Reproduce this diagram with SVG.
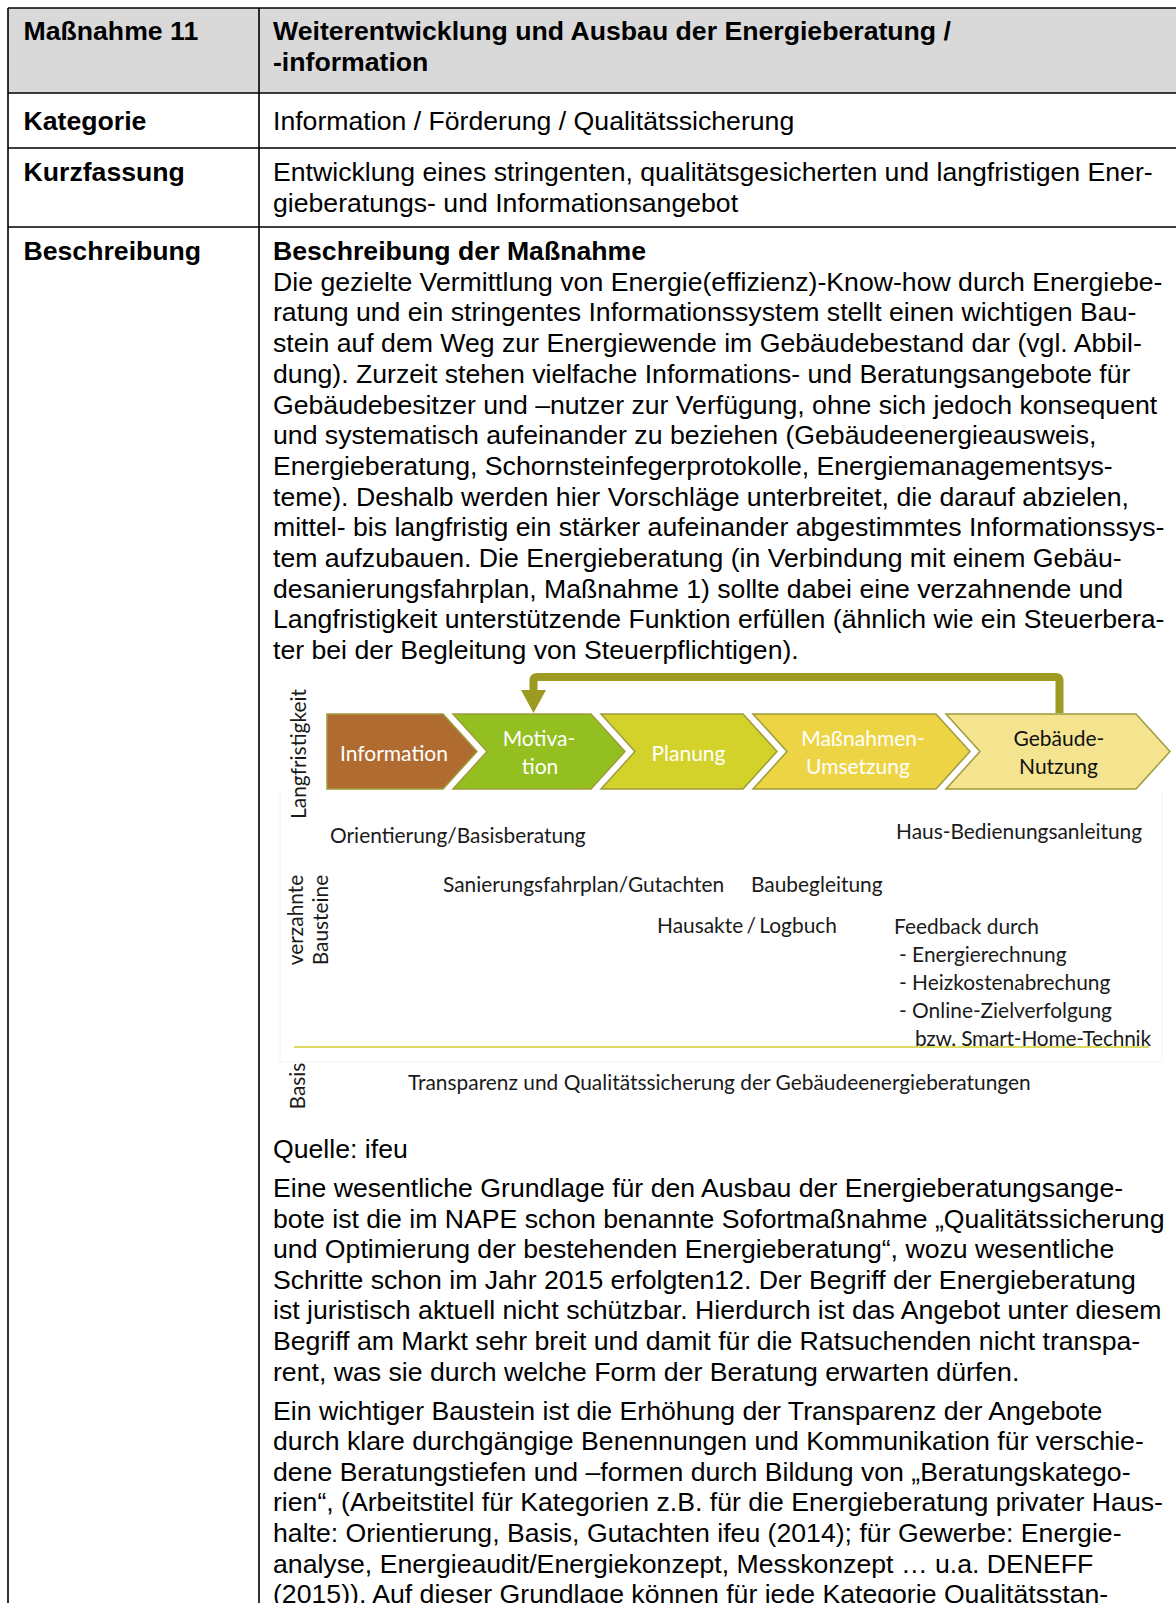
<svg xmlns="http://www.w3.org/2000/svg" width="1176" height="1603" viewBox="0 0 1176 1603">
<style>
  .t{font-family:"Liberation Sans",Arial,sans-serif;font-size:26.65px;fill:#000}
  .b{font-weight:bold}
  .grid{stroke:#000;stroke-width:1.6;fill:none}
  .d{font-family:Lato,"Open Sans",sans-serif;font-size:20.9px;fill:#1a1a1a}
  .w{font-family:Lato,"Open Sans",sans-serif;font-size:21px;fill:#ffffff;text-anchor:middle}
  .k{font-family:Lato,"Open Sans",sans-serif;font-size:21px;fill:#111;text-anchor:middle}
  .chev{stroke:#9e9b3a;stroke-width:1.5}
</style>
<rect width="1176" height="1603" fill="#fff"/>
<g id="table">
  <rect x="8" y="8" width="1170" height="85" fill="#d9d9d9"/>
  <path class="grid" d="M8,8 H1178 M8,93 H1178 M8,148 H1178 M8,227 H1178 M8,8 V1605 M259,8 V1605"/>
  <text class="t b" x="23.5" y="40">Maßnahme 11</text>
  <text class="t b" x="273" y="40">Weiterentwicklung und Ausbau der Energieberatung /</text>
  <text class="t b" x="273" y="70.7">-information</text>
  <text class="t b" x="23.5" y="130">Kategorie</text>
  <text class="t" x="273" y="130">Information / Förderung / Qualitätssicherung</text>
  <text class="t b" x="23.5" y="181">Kurzfassung</text>
  <text class="t" x="273" y="181">Entwicklung eines stringenten, qualitätsgesicherten und langfristigen Ener-</text>
  <text class="t" x="273" y="211.7">gieberatungs- und Informationsangebot</text>
  <text class="t b" x="23.5" y="260">Beschreibung</text>
  <text class="t b" x="273" y="260">Beschreibung der Maßnahme</text>
  <text class="t" x="273" y="290.7">Die gezielte Vermittlung von Energie(effizienz)-Know-how durch Energiebe-</text>
  <text class="t" x="273" y="321.4">ratung und ein stringentes Informationssystem stellt einen wichtigen Bau-</text>
  <text class="t" x="273" y="352.1">stein auf dem Weg zur Energiewende im Gebäudebestand dar (vgl. Abbil-</text>
  <text class="t" x="273" y="382.8">dung). Zurzeit stehen vielfache Informations- und Beratungsangebote für</text>
  <text class="t" x="273" y="413.5">Gebäudebesitzer und –nutzer zur Verfügung, ohne sich jedoch konsequent</text>
  <text class="t" x="273" y="444.2">und systematisch aufeinander zu beziehen (Gebäudeenergieausweis,</text>
  <text class="t" x="273" y="474.9">Energieberatung, Schornsteinfegerprotokolle, Energiemanagementsys-</text>
  <text class="t" x="273" y="505.6">teme). Deshalb werden hier Vorschläge unterbreitet, die darauf abzielen,</text>
  <text class="t" x="273" y="536.3">mittel- bis langfristig ein stärker aufeinander abgestimmtes Informationssys-</text>
  <text class="t" x="273" y="567">tem aufzubauen. Die Energieberatung (in Verbindung mit einem Gebäu-</text>
  <text class="t" x="273" y="597.7">desanierungsfahrplan, Maßnahme 1) sollte dabei eine verzahnende und</text>
  <text class="t" x="273" y="628.4">Langfristigkeit unterstützende Funktion erfüllen (ähnlich wie ein Steuerbera-</text>
  <text class="t" x="273" y="659.1">ter bei der Begleitung von Steuerpflichtigen).</text>
  <text class="t" x="273" y="1158">Quelle: ifeu</text>
  <text class="t" x="273" y="1197">Eine wesentliche Grundlage für den Ausbau der Energieberatungsange-</text>
  <text class="t" x="273" y="1227.6">bote ist die im NAPE schon benannte Sofortmaßnahme „Qualitätssicherung</text>
  <text class="t" x="273" y="1258.2">und Optimierung der bestehenden Energieberatung“, wozu wesentliche</text>
  <text class="t" x="273" y="1288.8">Schritte schon im Jahr 2015 erfolgten12. Der Begriff der Energieberatung</text>
  <text class="t" x="273" y="1319.4">ist juristisch aktuell nicht schützbar. Hierdurch ist das Angebot unter diesem</text>
  <text class="t" x="273" y="1350">Begriff am Markt sehr breit und damit für die Ratsuchenden nicht transpa-</text>
  <text class="t" x="273" y="1380.6">rent, was sie durch welche Form der Beratung erwarten dürfen.</text>
  <text class="t" x="273" y="1419.5">Ein wichtiger Baustein ist die Erhöhung der Transparenz der Angebote</text>
  <text class="t" x="273" y="1450.1">durch klare durchgängige Benennungen und Kommunikation für verschie-</text>
  <text class="t" x="273" y="1480.7">dene Beratungstiefen und –formen durch Bildung von „Beratungskatego-</text>
  <text class="t" x="273" y="1511.3">rien“, (Arbeitstitel für Kategorien z.B. für die Energieberatung privater Haus-</text>
  <text class="t" x="273" y="1541.9">halte: Orientierung, Basis, Gutachten ifeu (2014); für Gewerbe: Energie-</text>
  <text class="t" x="273" y="1572.5">analyse, Energieaudit/Energiekonzept, Messkonzept … u.a. DENEFF</text>
  <text class="t" x="273" y="1603.1">(2015)). Auf dieser Grundlage können für jede Kategorie Qualitätsstan-</text>
</g>
<g id="figure">
  <path d="M280,790 V1062 H1162 V790" fill="none" stroke="#f2f2f2" stroke-width="1"/>
  <line x1="294" y1="1047" x2="1149" y2="1047" stroke="#cfcf2e" stroke-width="1.6"/>
  <text class="d" text-anchor="middle" transform="translate(306,754) rotate(-90)">Langfristigkeit</text>
  <text class="d" text-anchor="middle" transform="translate(303,920) rotate(-90)">verzahnte</text>
  <text class="d" text-anchor="middle" transform="translate(328,920) rotate(-90)">Bausteine</text>
  <text class="d" text-anchor="middle" transform="translate(305,1086) rotate(-90)">Basis</text>
  <text class="d" x="330" y="843">Orientierung/Basisberatung</text>
  <text class="d" x="896" y="839">Haus-Bedienungsanleitung</text>
  <text class="d" x="443" y="892">Sanierungsfahrplan/Gutachten</text>
  <text class="d" x="751" y="892">Baubegleitung</text>
  <text class="d" x="657" y="933" word-spacing="-2">Hausakte / Logbuch</text>
  <text class="d" x="894" y="934">Feedback durch</text>
  <text class="d" x="899" y="962">- Energierechnung</text>
  <text class="d" x="899" y="990">- Heizkostenabrechung</text>
  <text class="d" x="899" y="1018">- Online-Zielverfolgung</text>
  <text class="d" x="915" y="1046" textLength="236">bzw. Smart-Home-Technik</text>
  <text class="d" x="408" y="1090">Transparenz und Qualitätssicherung der Gebäudeenergieberatungen</text>
</g>
<g id="node-information">
  <path class="chev" fill="#b06c30" d="M327,714 H443 L477,751.5 L443,789 H327 Z"/>
  <text class="w" x="394" y="760.5">Information</text>
</g>
<g id="node-motivation">
  <path class="chev" fill="#93c020" d="M453,714 H591 L625,751.5 L591,789 H453 L487,751.5 Z"/>
  <text class="w" x="539" y="746">Motiva-</text>
  <text class="w" x="540" y="774">tion</text>
</g>
<g id="node-planung">
  <path class="chev" fill="#d3d22a" d="M601,714 H743 L777,751.5 L743,789 H601 L635,751.5 Z"/>
  <text class="w" x="688.5" y="760.5">Planung</text>
</g>
<g id="node-umsetzung">
  <path class="chev" fill="#edd444" d="M753,714 H936 L970,751.5 L936,789 H753 L787,751.5 Z"/>
  <text class="w" x="863" y="746">Maßnahmen-</text>
  <text class="w" x="858" y="774">Umsetzung</text>
</g>
<g id="node-nutzung">
  <path class="chev" fill="#f4e48f" d="M946,714 H1136 L1170,751.5 L1136,789 H946 L980,751.5 Z"/>
  <text class="k" x="1059" y="746">Gebäude-</text>
  <text class="k" x="1058.5" y="774">Nutzung</text>
</g>
<g id="connectors">
  <path d="M1059.5,713 V681 Q1059.5,677 1055.5,677 H537.5 Q533.5,677 533.5,681 V692" fill="none" stroke="#9c9a22" stroke-width="8"/>
  <polygon points="521,690 546,690 533.5,713" fill="#9c9a22"/>
</g>
</svg>
